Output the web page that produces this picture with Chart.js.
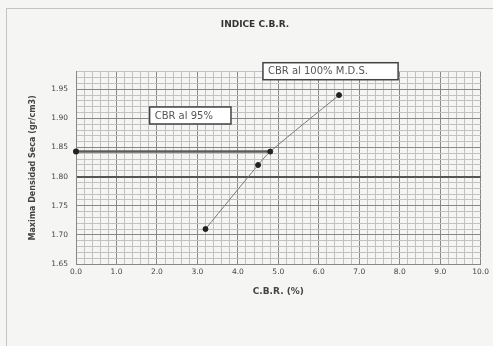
<!DOCTYPE html>
<html>
<head>
<meta charset="utf-8">
<script src="https://cdn.jsdelivr.net/npm/chart.js@4.4.1/dist/chart.umd.min.js"></script>
<style>
    html, body { margin: 0; padding: 0; background: #f5f6f4; }
    #wrap { position: relative; width: 493px; height: 346px; overflow: hidden; }
    #frame { position: absolute; left: 6px; top: 8px; width: 500px; height: 400px;
             border-left: 1px solid #c4c4c4; border-top: 1px solid #c4c4c4; }
    canvas { position: absolute; left: 0; top: 0; }
</style>
</head>
<body>
<div id="wrap">
    <div id="frame"></div>
    <canvas id="cbrChart" width="493" height="346"></canvas>
</div>
<script>
// Datos
const cbrValues = [3.2, 4.5, 4.8, 6.5];
const densityValues = [1.71, 1.82, 1.843, 1.94];

// Línea del 95 % de la M.D.S.
const line95X = [0, 4.8];
const line95Y = [1.843, 1.843];

// Textos
const chartTitle = 'INDICE C.B.R.';
const xTitle = 'C.B.R. (%)';
const yTitle = 'Maxima Densidad Seca (gr/cm3)';
const boxTexts = ['CBR al 95%', 'CBR al 100% M.D.S.'];

// Ejes
const xRange = [0, 10];
const yRange = [1.65, 1.98];

// Cajas de texto (estilo, en unidades de datos)
const boxStyles = [
    { xMin: 1.82, xMax: 3.83, yCenter: 1.905 },
    { xMin: 4.62, xMax: 7.96, yCenter: 1.981 }
];

const FONT = "'DejaVu Sans', sans-serif";

const isMajorX = v => Math.abs(v - Math.round(v)) < 1e-6;
const isMajorY = v => Math.abs(v * 20 - Math.round(v * 20)) < 1e-6;
const is180 = v => Math.abs(v - 1.80) < 1e-6;

const boxPlugin = {
    id: 'cajas',
    afterDatasetsDraw(chart) {
        const { ctx, scales: { x, y } } = chart;
        ctx.save();
        boxStyles.forEach((b, i) => {
            const left = x.getPixelForValue(b.xMin);
            const right = x.getPixelForValue(b.xMax);
            const cy = y.getPixelForValue(b.yCenter);
            const h = 17;
            ctx.fillStyle = '#ffffff';
            ctx.fillRect(left, cy - h / 2, right - left, h);
            ctx.strokeStyle = '#444';
            ctx.lineWidth = 1.5;
            ctx.strokeRect(left, cy - h / 2, right - left, h);
            ctx.fillStyle = '#555';
            ctx.font = '10px ' + FONT;
            ctx.textBaseline = 'middle';
            ctx.textAlign = 'left';
            ctx.fillText(boxTexts[i], left + 5, cy + 0.5);
        });
        ctx.restore();
    }
};

const ctx = document.getElementById('cbrChart').getContext('2d');

new Chart(ctx, {
    type: 'scatter',
    data: {
        datasets: [
            {
                label: 'CBR',
                data: cbrValues.map((v, i) => ({ x: v, y: densityValues[i] })),
                showLine: true,
                borderColor: '#7a7a7a',
                borderWidth: 1,
                tension: 0.3,
                pointRadius: 2.5,
                pointBackgroundColor: '#222',
                pointBorderColor: '#222',
                clip: false
            },
            {
                label: '95%',
                data: line95X.map((v, i) => ({ x: v, y: line95Y[i] })),
                showLine: true,
                borderColor: '#5c5c5c',
                borderWidth: 2.5,
                pointRadius: [3, 0],
                pointBorderWidth: 0,
                pointBackgroundColor: '#222',
                pointBorderColor: '#222',
                clip: false
            }
        ]
    },
    options: {
        responsive: false,
        animation: false,
        layout: { padding: { left: 20, right: 3, top: 0, bottom: 0 } },
        plugins: {
            legend: { display: false },
            tooltip: { enabled: false },
            title: {
                display: true,
                text: chartTitle,
                color: '#333',
                font: { family: FONT, size: 9, weight: 'bold' },
                padding: { top: 19, bottom: 42 }
            }
        },
        scales: {
            x: {
                type: 'linear',
                min: xRange[0],
                max: xRange[1],
                afterFit: s => { s.height = 82; },
                ticks: {
                    stepSize: 0.2,
                    autoSkip: false,
                    maxRotation: 0,
                    padding: 4,
                    color: '#444',
                    font: { family: FONT, size: 7.5 },
                    callback: v => isMajorX(v) ? Number(v).toFixed(1) : ''
                },
                grid: {
                    drawTicks: false,
                    color: c => isMajorX(c.tick.value) ? '#888' : '#c2c2c2',
                    lineWidth: 1
                },
                border: { color: '#888' },
                title: {
                    display: true,
                    text: xTitle,
                    color: '#444',
                    font: { family: FONT, size: 9, weight: 'bold' },
                    padding: { top: 0, bottom: 49 }
                }
            },
            y: {
                type: 'linear',
                min: yRange[0],
                max: yRange[1],
                afterFit: s => { s.width = 56; },
                ticks: {
                    stepSize: 0.01,
                    autoSkip: false,
                    padding: 8,
                    color: '#444',
                    font: { family: FONT, size: 7.5 },
                    callback: v => isMajorY(v) ? Number(v).toFixed(2) : ''
                },
                grid: {
                    drawTicks: false,
                    color: c => is180(c.tick.value) ? '#555' : (isMajorY(c.tick.value) ? '#888' : '#c2c2c2'),
                    lineWidth: c => is180(c.tick.value) ? 2 : 1
                },
                border: { color: '#888' },
                title: {
                    display: true,
                    text: yTitle,
                    color: '#444',
                    font: { family: FONT, size: 8, weight: 'bold' },
                    padding: { top: 8, bottom: 0 }
                }
            }
        }
    },
    plugins: [boxPlugin]
});
</script>
</body>
</html>
